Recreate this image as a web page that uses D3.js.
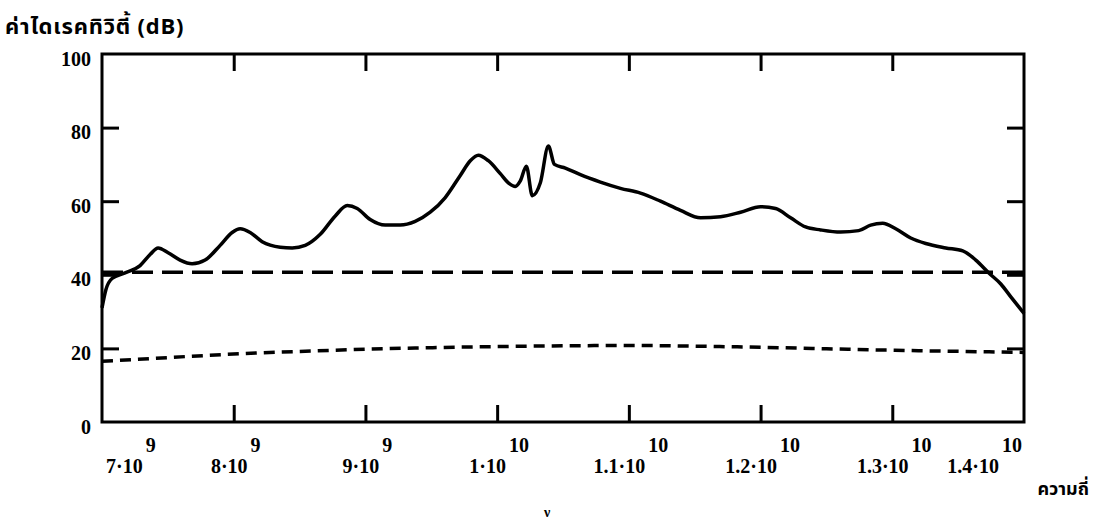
<!DOCTYPE html>
<html>
<head>
<meta charset="utf-8">
<script src="https://cdn.jsdelivr.net/npm/d3@7"></script>
<style>
  html, body { margin: 0; padding: 0; background: #fff; overflow: hidden; }
  svg { display: block; }
</style>
</head>
<body>
<svg id="chart" width="1093" height="527"></svg>
<script>
// ---- data (frequency in GHz, directivity in dB) ----
const directivityFreq = [7.000,7.030,7.076,7.175,7.289,7.365,7.426,7.502,7.593,7.684,7.783,7.897,7.988,8.049,8.125,8.216,8.353,8.444,8.543,8.657,8.771,8.862,8.938,9.036,9.150,9.264,9.378,9.492,9.606,9.720,9.796,9.857,9.933,10.024,10.085,10.138,10.176,10.222,10.267,10.328,10.389,10.435,10.518,10.632,10.784,10.936,11.088,11.240,11.392,11.544,11.696,11.848,12.000,12.114,12.228,12.342,12.456,12.608,12.745,12.836,12.927,13.026,13.140,13.254,13.406,13.535,13.634,13.733,13.824,13.900,14.000];
const directivityDb   = [31,36,39,40.5,42.5,45.5,47.3,46,44,43,44,48,51.5,52.5,51.5,49,47.5,47.3,48,51,56,58.8,58,55,53.5,53.5,54.5,57,61,67,71,72.5,71,67.5,65,64,65.5,69.5,61.5,65,75,70,69,67.2,65.2,63.5,62.2,60,57.5,55.5,55.8,57,58.5,58,55.5,53,52.2,51.6,52,53.5,54,52.5,50,48.5,47.3,46.5,44,40.5,37.5,34,29.5];

const dashedFreq = [7.0, 14.0];
const dashedDb   = [40.7, 40.7];

const dottedFreq = [7.0,7.4,7.8,8.2,8.6,9.0,9.5,10.0,10.5,11.0,11.5,12.0,12.5,13.0,13.5,14.0];
const dottedDb   = [16.5,17.3,18.1,18.8,19.3,19.8,20.2,20.5,20.7,20.8,20.6,20.3,19.9,19.5,19.2,18.9];

const xTickValues = [7,8,9,10,11,12,13,14];
const xTickBase   = ["7·10","8·10","9·10","1·10","1.1·10","1.2·10","1.3·10","1.4·10"];
const xTickExp    = ["9","9","9","10","10","10","10","10"];
const yTickValues = [0,20,40,60,80,100];

const titleText = "ค่าไดเรคทิวิตี้ (dB)";
const xAxisText = "ความถี่";
const nuText = "ν";

// ---- layout ----
const L = 102, R = 1024, T = 54, B = 422;
const svg = d3.select("#chart");
const x = d3.scaleLinear().domain([7, 14]).range([L, R]);
const y = d3.scaleLinear().domain([0, 100]).range([B, T]);

const serif = "'Liberation Serif', 'DejaVu Serif', serif";
const thai = "'Noto Sans Thai', 'Noto Sans', 'DejaVu Sans', sans-serif";

// frame
svg.append("rect").attr("x", L).attr("y", T).attr("width", R - L).attr("height", B - T)
  .attr("fill", "none").attr("stroke", "#000").attr("stroke-width", 3);

// inner ticks via axes
const innerX = xTickValues.slice(1, -1);
const innerY = yTickValues.slice(1, -1);
const tl = 17;
const styleAxis = g => {
  g.select(".domain").remove();
  g.selectAll("text").remove();
  g.selectAll("line").attr("stroke", "#000").attr("stroke-width", 3);
};
svg.append("g").attr("transform", `translate(0,${B})`)
  .call(d3.axisTop(x).tickValues(innerX).tickSize(tl)).call(styleAxis);
svg.append("g").attr("transform", `translate(0,${T})`)
  .call(d3.axisBottom(x).tickValues(innerX).tickSize(tl)).call(styleAxis);
svg.append("g").attr("transform", `translate(${L},0)`)
  .call(d3.axisRight(y).tickValues(innerY).tickSize(tl)).call(styleAxis);
svg.append("g").attr("transform", `translate(${R},0)`)
  .call(d3.axisLeft(y).tickValues(innerY).tickSize(tl)).call(styleAxis);

// y tick labels
svg.append("g").selectAll("text").data(yTickValues).join("text")
  .attr("x", 91).attr("y", d => y(d) + 7)
  .attr("text-anchor", "end").attr("dominant-baseline", "middle")
  .attr("font-family", serif).attr("font-weight", "bold").attr("font-size", 20)
  .text(d => d);

// x tick labels with exponent
const xl = svg.append("g").selectAll("text").data(xTickValues).join("text")
  .attr("x", (d, i) => i === 0 ? L + 4 : (i === xTickValues.length - 1 ? R - 2 : x(d) + 2))
  .attr("y", 473)
  .attr("text-anchor", (d, i) => i === 0 ? "start" : (i === xTickValues.length - 1 ? "end" : "middle"))
  .attr("font-family", serif).attr("font-weight", "bold").attr("font-size", 20);
xl.append("tspan").text((d, i) => xTickBase[i]);
xl.append("tspan").attr("dx", 3).attr("dy", -21).text((d, i) => xTickExp[i]);

// series
const line = d3.line().x(d => x(d[0])).y(d => y(d[1]));
const zip = (a, b) => a.map((v, i) => [v, b[i]]);

svg.append("path").datum(zip(dottedFreq, dottedDb))
  .attr("d", line.curve(d3.curveMonotoneX)).attr("fill", "none")
  .attr("stroke", "#000").attr("stroke-width", 3.5).attr("stroke-dasharray", "11,7");

svg.append("path").datum(zip(dashedFreq, dashedDb))
  .attr("d", line.curve(d3.curveLinear)).attr("fill", "none")
  .attr("stroke", "#000").attr("stroke-width", 3.5).attr("stroke-dasharray", "21,9");

svg.append("path").datum(zip(directivityFreq, directivityDb))
  .attr("d", line.curve(d3.curveMonotoneX)).attr("fill", "none")
  .attr("stroke", "#000").attr("stroke-width", 3.5).attr("stroke-linejoin", "round");

// titles
svg.append("text").attr("x", 5).attr("y", 34)
  .attr("font-family", thai).attr("font-weight", "bold").attr("font-size", 22)
  .attr("letter-spacing", 0.8)
  .text(titleText);
svg.append("text").attr("x", 1089).attr("y", 495)
  .attr("text-anchor", "end")
  .attr("font-family", thai).attr("font-weight", "bold").attr("font-size", 18)
  .text(xAxisText);
svg.append("text").attr("x", 544).attr("y", 517)
  .attr("font-family", serif).attr("font-weight", "bold").attr("font-size", 14)
  .text(nuText);
</script>
</body>
</html>
